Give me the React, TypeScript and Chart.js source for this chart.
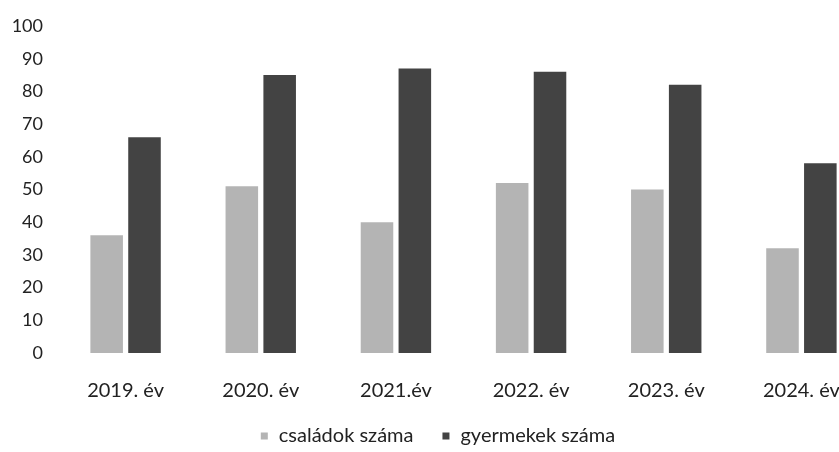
import React, { useEffect, useRef } from "react";
import { Chart, registerables } from "chart.js";

Chart.register(...registerables);

const categories = ["2019. év", "2020. év", "2021.év", "2022. év", "2023. év", "2024. év"];
const csaladok = [36, 51, 40, 52, 50, 32];
const gyermekek = [66, 85, 87, 86, 82, 58];
const seriesNames = ["családok száma", "gyermekek száma"];
const yTicks = [0, 10, 20, 30, 40, 50, 60, 70, 80, 90, 100];

const LIGHT = "#b4b4b4";
const DARK = "#434343";
const FONT = "Lato, 'Open Sans', sans-serif";

const legendPlugin = {
  id: "customLegend",
  afterDraw(chart: any) {
    const ctx = chart.ctx;
    const ds = chart.data.datasets;
    ctx.save();
    ctx.font = `20px ${FONT}`;
    ctx.textBaseline = "middle";
    const box = 7;
    const gapBoxText = 11;
    const itemGap = 29;
    const widths = ds.map((d: any) => box + gapBoxText + ctx.measureText(d.label).width);
    const total = widths.reduce((a: number, b: number) => a + b, 0) + itemGap * (ds.length - 1);
    let x = 438 - total / 2;
    const y = 436;
    ds.forEach((d: any, i: number) => {
      ctx.fillStyle = d.backgroundColor;
      ctx.fillRect(x, y - box / 2, box, box);
      ctx.fillStyle = "#222";
      ctx.fillText(d.label, x + box + gapBoxText, y);
      x += widths[i] + itemGap;
    });
    ctx.restore();
  },
};

export default function App() {
  const ref = useRef<HTMLCanvasElement>(null);
  useEffect(() => {
    if (!ref.current) return;
    const chart = new Chart(ref.current, {
      type: "bar",
      data: {
        labels: categories,
        datasets: [
          { label: seriesNames[0], data: csaladok, backgroundColor: LIGHT },
          { label: seriesNames[1], data: gyermekek, backgroundColor: DARK },
        ],
      },
      options: {
        responsive: false,
        animation: false,
        layout: { padding: { left: 8, right: 6, top: 26, bottom: 23 } },
        datasets: { bar: { categoryPercentage: 0.56, barPercentage: 0.86 } },
        plugins: { legend: { display: false }, tooltip: { enabled: false } },
        scales: {
          x: {
            grid: { display: false, drawTicks: false },
            border: { display: false },
            ticks: { color: "#222", font: { family: FONT, size: 20 }, padding: 26, maxRotation: 0 },
          },
          y: {
            min: 0,
            max: 100,
            afterBuildTicks: (axis: any) => {
              axis.ticks = yTicks.map((v) => ({ value: v }));
            },
            afterFit: (axis: any) => {
              axis.width = 50;
            },
            grid: { display: false, drawTicks: false },
            border: { display: false },
            ticks: { color: "#222", font: { family: FONT, size: 18 }, padding: 15 },
          },
        },
      },
      plugins: [legendPlugin],
    });
    return () => chart.destroy();
  }, []);
  return (
    <div style={{ position: "fixed", left: 0, top: 0, width: 839, height: 452, overflow: "hidden", background: "#fff" }}>
      <canvas ref={ref} width={875} height={452} style={{ display: "block" }} />
    </div>
  );
}
